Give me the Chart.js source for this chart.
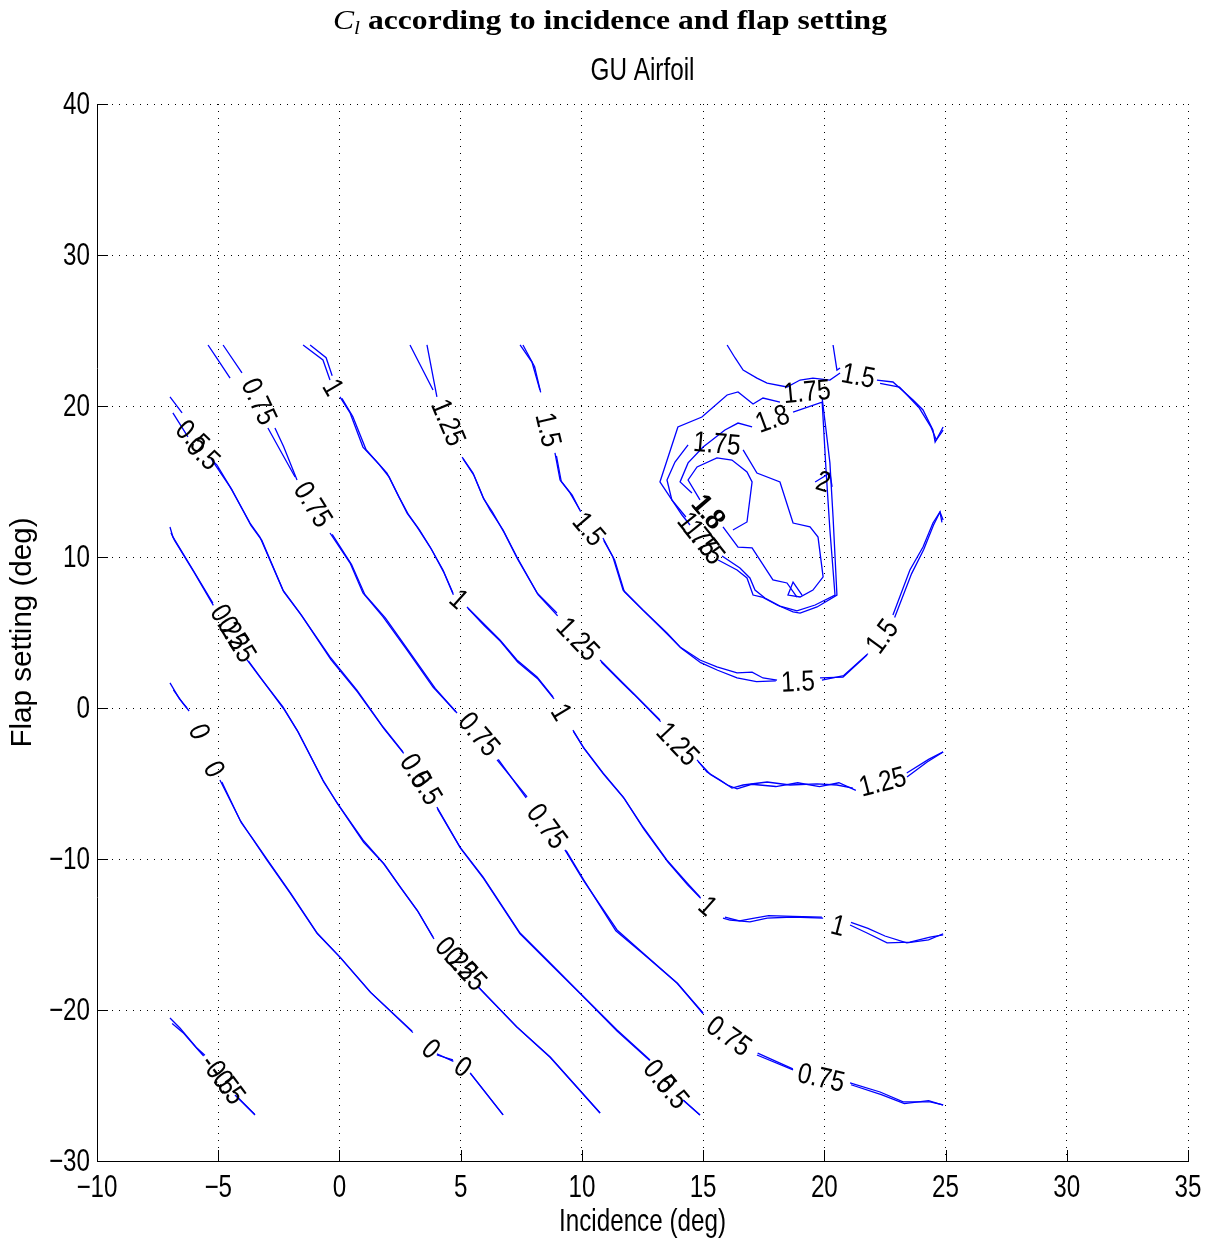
<!DOCTYPE html>
<html>
<head>
<meta charset="utf-8">
<title>Cl contours - GU Airfoil</title>
<script src="https://cdn.jsdelivr.net/npm/chart.js@4/dist/chart.umd.min.js"></script>
<style>
  html, body { margin: 0; padding: 0; background: #fff; }
  #wrap { width: 1209px; height: 1243px; }
  canvas { display: block; }
</style>
</head>
<body>
<div id="wrap"><canvas id="cl" width="1209" height="1243"></canvas></div>
<script>
// Axis ranges (degrees)
const incidenceRange = [-10, 35];
const flapRange = [-30, 40];
const incidenceStep = 5;
const flapStep = 10;

// Contour paths as [incidence, flap] pairs. Each level is traced twice (a/b);
// null breaks the line where an inline label sits.
const cl_neg050_a = [[-6.99,-20.53],[-6.58,-21.19],[-5.88,-22.52],[-5.55,-23.00],null,[-4.31,-25.63],[-3.48,-26.95]];
const cl_neg050_b = [[-6.90,-20.90],[-6.45,-21.50],[-5.85,-22.60],[-5.60,-23.05],null,[-4.25,-25.70],[-3.50,-26.90]];

const cl_000_a = [[-6.99,1.66],[-6.60,0.60],[-6.29,0.00],null,[-5.55,-2.90],null,[-4.93,-4.77],[-4.10,-7.42],[-3.69,-8.41],[-2.99,-10.07],[-2.04,-12.25],[-0.93,-14.90],[0.02,-16.50],[1.26,-18.80],[3.03,-21.50],null,[4.02,-22.98],[4.68,-23.31],null,[5.39,-24.17],[6.75,-26.95]];
const cl_000_b = [[-6.85,1.20],[-6.45,0.30],[-6.20,-0.20],null,[-5.50,-3.00],null,[-4.85,-4.90],[-4.05,-7.60],[-3.60,-8.60],[-2.95,-10.10],[-2.00,-12.30],[-0.90,-14.95],[0.05,-16.55],[1.30,-18.85],[3.00,-21.40],null,[4.02,-22.90],[4.70,-23.40],null,[5.40,-24.20],[6.75,-26.95]];

const cl_025_a = [[-6.99,11.99],[-6.87,11.33],[-6.04,9.14],[-5.22,6.95],null,[-3.81,3.18],[-3.28,2.05],[-2.33,0.07],[-1.75,-1.46],[-0.68,-4.77],[-0.10,-6.29],[0.97,-8.74],[1.80,-10.26],[2.50,-11.85],[3.20,-13.38],[3.86,-15.17],null,[5.72,-18.48],[7.32,-21.13],[8.69,-23.11],[10.75,-26.82]];
const cl_025_b = [[-6.95,11.60],[-6.80,11.10],[-6.00,9.00],[-5.20,6.80],null,[-3.75,3.10],[-3.20,1.90],[-2.30,-0.05],[-1.70,-1.60],[-0.65,-4.90],[-0.05,-6.40],[1.00,-8.90],[1.85,-10.35],[2.55,-11.95],[3.25,-13.50],[3.90,-15.30],null,[5.75,-18.50],[7.30,-21.10],[8.70,-23.15],[10.75,-26.82]];

const cl_050_a = [[-6.99,20.60],[-6.49,19.54],null,[-5.30,16.50],[-5.05,16.09],[-4.51,14.64],[-3.69,12.25],[-3.28,11.32],[-2.33,7.81],[-1.63,6.29],[-0.39,3.38],[0.72,1.19],[1.80,-1.26],[2.62,-2.91],null,[4.02,-6.56],[4.97,-9.21],[5.92,-11.19],[7.45,-14.90],[8.69,-16.89],[9.92,-18.87],[11.45,-21.32],[12.81,-23.31],null,[14.17,-25.96],[14.87,-26.95]];
const cl_050_b = [[-6.87,19.54],[-6.25,17.95],null,[-5.25,16.40],[-4.45,14.50],[-3.65,12.10],[-3.20,11.10],[-2.30,7.70],[-1.55,6.10],[-0.35,3.20],[0.75,1.05],[1.85,-1.40],[2.65,-3.00],null,[4.05,-6.70],[5.00,-9.30],[5.95,-11.30],[7.45,-14.95],[8.70,-16.95],[9.95,-18.95],[11.45,-21.40],[12.80,-23.35],null,[14.20,-26.00],[14.87,-26.95]];

const cl_075_a = [[-5.42,24.04],[-5.01,23.05],[-4.51,21.85],null,[-2.95,18.54],[-2.45,17.09],[-1.83,15.30],null,[-0.39,11.59],[0.44,9.60],[0.97,7.62],[1.80,6.03],[2.79,3.84],[3.86,1.39],[4.85,-0.33],null,[6.50,-3.44],[7.74,-5.89],null,[9.30,-9.40],[10.05,-11.39],[11.45,-14.70],[12.52,-16.23],[13.92,-18.21],[15.00,-20.20],null,[17.22,-22.98],[18.71,-23.97],null,[21.06,-24.83],[22.30,-25.43],[23.25,-26.09],[24.36,-26.09],[24.90,-26.29]];
const cl_075_b = [[-4.80,24.04],[-4.02,22.19],null,[-2.66,18.54],[-2.30,17.30],[-1.75,15.10],null,[-0.30,11.50],[0.50,9.50],[1.05,7.50],[1.90,5.95],[2.85,3.80],[3.95,1.30],[4.80,-0.25],null,[6.55,-3.40],[7.70,-5.95],null,[9.35,-9.45],[10.10,-11.45],[11.40,-14.75],[12.55,-16.30],[13.95,-18.25],[15.00,-20.25],null,[17.25,-22.85],[18.70,-23.90],null,[21.10,-24.95],[22.35,-25.60],[23.30,-26.20],[24.30,-26.00],[24.90,-26.30]];

const cl_100_a = [[-1.50,24.04],[-0.68,23.05],[-0.39,21.72],null,[0.02,20.60],[0.44,19.54],[0.97,17.28],[1.55,16.29],[1.96,15.56],[2.37,14.24],[2.79,12.91],[3.20,11.99],[3.74,10.66],[4.27,9.14],[4.68,7.62],null,[5.26,6.69],[5.92,5.63],[6.62,4.50],[7.32,3.18],[8.15,2.05],[8.81,0.73],null,[9.63,-1.46],[10.05,-2.58],[10.87,-4.30],[11.70,-5.89],[12.52,-7.88],[13.51,-10.07],[14.34,-11.59],[14.87,-12.52],null,[15.82,-13.91],[16.11,-14.04],[16.93,-14.17],[17.64,-13.91],[18.71,-13.84],[19.95,-13.91],null,[21.06,-14.37],[21.76,-14.90],[22.59,-15.56],[23.53,-15.50],[24.36,-15.17],[24.90,-15.03]];
const cl_100_b = [[-1.21,24.04],[-0.55,23.20],[-0.30,22.00],null,[0.10,20.50],[0.55,19.30],[1.10,17.10],[1.65,16.10],[2.05,15.30],[2.45,14.00],[2.85,12.80],[3.30,11.80],[3.80,10.50],[4.30,9.00],[4.70,7.50],null,[5.30,6.60],[5.95,5.50],[6.65,4.40],[7.35,3.05],[8.20,1.90],[8.85,0.60],null,[9.65,-1.55],[10.10,-2.70],[10.90,-4.40],[11.75,-6.00],[12.55,-8.00],[13.55,-10.20],[14.35,-11.70],[14.90,-12.60],null,[15.90,-13.85],[16.50,-14.10],[17.00,-13.95],[17.70,-13.75],[18.70,-13.80],[19.90,-13.85],null,[21.10,-14.20],[21.80,-14.60],[22.50,-15.10],[23.40,-15.55],[24.30,-15.35],[24.90,-14.95]];

const cl_125_a = [[2.91,24.04],[3.86,21.06],null,[5.06,16.62],[5.51,15.56],[5.92,13.97],[6.21,13.11],[6.75,11.79],[7.32,10.00],[8.15,7.62],[8.97,6.29],null,[10.75,3.18],[11.57,1.85],[12.11,0.99],[13.22,-0.79],null,[14.75,-3.44],[15.16,-4.24],[15.70,-4.77],[16.19,-5.30],[16.65,-5.10],[17.64,-4.90],[18.58,-5.10],[19.70,-5.03],[20.52,-5.10],[21.18,-5.30],null,[23.41,-4.57],[24.24,-3.58],[24.90,-2.91]];
const cl_125_b = [[3.61,24.04],[4.02,20.60],null,[5.10,16.50],[5.55,15.40],[5.95,13.85],[6.30,13.00],[6.80,11.60],[7.35,9.85],[8.20,7.50],[9.00,6.10],null,[10.80,3.05],[11.60,1.75],[12.15,0.90],[13.25,-0.90],null,[14.80,-3.55],[15.30,-4.40],[16.00,-5.10],[16.40,-5.35],[17.00,-5.05],[18.00,-5.20],[18.90,-4.95],[19.80,-5.20],[20.60,-4.95],[21.30,-5.45],null,[23.40,-4.30],[24.30,-3.40],[24.90,-2.91]];

const cl_150_a = [[7.45,24.04],[7.94,22.91],[8.27,21.06],null,[8.89,16.89],[9.10,15.10],[9.51,14.24],[9.92,13.11],null,[10.87,11.26],[11.28,10.00],[11.70,7.81],[12.52,6.49],[13.51,4.97],[14.05,4.04],[14.87,3.18],[15.57,2.72],[16.40,2.32],[17.02,2.38],[17.47,1.99],[18.05,1.85],null,[19.82,1.99],[20.77,2.05],[21.76,3.51],null,[22.83,6.16],[23.53,9.14],[24.07,10.66],[24.48,12.25],[24.77,12.98],[24.90,12.45]];
const cl_150_b = [[7.57,24.04],[8.05,22.60],[8.30,20.90],null,[8.95,16.70],[9.15,15.00],[9.60,14.10],[9.95,13.00],null,[10.90,11.10],[11.35,9.80],[11.75,7.70],[12.60,6.35],[13.55,4.85],[14.10,3.95],[14.90,3.00],[15.60,2.50],[16.40,2.00],[17.20,1.75],[18.00,1.80],null,[19.90,1.85],[20.80,2.15],[21.80,3.60],null,[22.90,6.00],[23.60,8.90],[24.10,10.50],[24.50,12.10],[24.77,12.98],[24.85,12.30]];
const cl_150_up_a = [[15.99,24.04],[16.32,23.18],[16.65,22.38],[17.22,21.85],[17.64,21.52],[18.46,21.26],[19.00,21.72],[19.53,21.85],[20.23,21.72],[20.65,22.19],null,[22.17,21.72],[22.83,21.59],[23.66,20.40],[24.07,19.74],[24.48,18.41],[24.57,17.62],[24.90,18.61]];
const cl_150_up_b = [[20.36,24.04],[20.52,22.38],[20.65,22.52],null,[22.30,21.50],[23.10,21.25],[23.90,19.90],[24.40,18.60],[24.62,17.75],[24.90,18.40]];

const cl_175_a = [[19.91,20.53],[20.07,18.41],[20.23,16.23],[20.36,12.65],[20.52,7.48],[19.70,6.69],[19.00,6.29],[18.71,6.36],[18.05,6.82],[17.43,7.35],[17.06,7.48],[16.81,8.61],[16.40,9.14],[15.62,9.80],null,[14.46,12.12],[14.13,12.78],[13.22,14.97],[13.96,18.61],[14.95,19.27],[15.99,20.73],[16.44,20.93],[17.06,20.13],[17.47,20.53],[18.17,20.26]];
const cl_175_b = [[14.29,12.65],[13.71,13.78],[13.51,15.10],[13.84,16.29],[14.38,17.42],null,[16.65,17.09],[17.22,15.56],[18.17,14.97],[18.71,12.25],[19.41,11.99],[19.74,11.32],[19.95,8.68],[19.53,7.81],[19.00,7.35],[18.50,7.48],[18.71,8.34],[19.08,7.48]];

const cl_180_a = [[18.71,19.60],[19.91,20.26],[20.07,15.76],[20.23,11.79],[20.44,7.48],[19.62,6.82],[18.87,6.43],[18.17,6.75],[17.55,7.28],[17.14,7.81],[16.93,8.61],[16.52,9.27],[15.78,10.07],null,[14.54,14.24],[14.05,14.97],[14.38,16.23],[15.00,17.28],[15.90,18.41],[16.44,18.87],[17.02,18.61]];
const cl_180_b = [[14.87,13.78],[14.38,15.10],[14.75,15.96],[15.57,16.56],[16.19,16.42],[16.81,15.63],[17.02,14.97],[16.81,12.32],[16.23,11.79],null,[15.82,11.99],[16.44,10.66],[17.02,10.60],[17.88,8.48],[18.46,8.28],[18.87,7.35]];

const cl_200_a = [[19.62,14.97],[20.23,15.56],[20.32,14.64]];

// Inline label anchors [incidence, flap] for each level
const lab_neg050 = [[-4.99,-24.32],[-4.69,-24.96]];
const lab_000 = [[-5.83,-1.60],[-5.22,-4.10],[3.74,-22.65],[5.06,-23.84]];
const lab_025 = [[-4.58,5.30],[-4.28,4.50],[4.78,-16.66],[5.16,-17.34]];
const lab_050 = [[-6.10,17.90],[-5.66,16.80],[3.10,-4.21],[3.54,-5.33],[13.17,-24.46],[13.69,-25.48]];
const lab_075 = [[-3.36,20.26],[-1.13,13.44],[5.72,-1.79],[8.52,-7.88],[16.03,-21.79],[19.86,-24.57]];
const lab_100 = [[-0.31,21.19],[4.89,7.15],[9.10,-0.33],[15.16,-13.18],[20.56,-14.50]];
const lab_125 = [[4.44,18.87],[9.80,4.50],[13.92,-2.45],[22.42,-4.97]];
const lab_150 = [[8.56,18.41],[10.25,11.79],[18.91,1.66],[22.42,4.70],[21.39,21.92]];
const lab_175 = [[19.29,20.86],[15.57,17.42],[15.00,10.93],[14.75,11.46]];
const lab_180 = [[17.88,19.07],[15.16,12.98],[15.20,12.90]];
const lab_200 = [[19.95,14.90]];

// Level table assembled from the arrays above
const contours = [
  { level: -0.5, paths: [cl_neg050_a, cl_neg050_b], labels: lab_neg050 },
  { level: 0,    paths: [cl_000_a, cl_000_b], labels: lab_000 },
  { level: 0.25, paths: [cl_025_a, cl_025_b], labels: lab_025 },
  { level: 0.5,  paths: [cl_050_a, cl_050_b], labels: lab_050 },
  { level: 0.75, paths: [cl_075_a, cl_075_b], labels: lab_075 },
  { level: 1,    paths: [cl_100_a, cl_100_b], labels: lab_100 },
  { level: 1.25, paths: [cl_125_a, cl_125_b], labels: lab_125 },
  { level: 1.5,  paths: [cl_150_a, cl_150_b, cl_150_up_a, cl_150_up_b], labels: lab_150 },
  { level: 1.75, paths: [cl_175_a, cl_175_b], labels: lab_175 },
  { level: 1.8,  paths: [cl_180_a, cl_180_b], labels: lab_180 },
  { level: 2,    paths: [cl_200_a], labels: lab_200 }
];

function toPoints(path) {
  const out = [];
  let lastX = 0;
  path.forEach(p => {
    if (p) { out.push({ x: p[0], y: p[1] }); lastX = p[0]; }
    else out.push({ x: lastX, y: null });
  });
  return out;
}

const datasets = [];
contours.forEach(c => {
  c.paths.forEach(path => {
    datasets.push({
      label: String(c.level),
      data: toPoints(path),
      borderColor: '#0000ff',
      borderWidth: 1.3,
      pointRadius: 0,
      pointHoverRadius: 0,
      tension: 0,
      fill: false,
      spanGaps: false
    });
  });
});

const SANS = '"Liberation Sans", Arial, Helvetica, sans-serif';
const SERIF = '"Liberation Serif", "Times New Roman", serif';
const TICK_LEN = 11;

function drawText(ctx, text, x, y, o) {
  ctx.save();
  ctx.translate(x, y);
  if (o.angle) ctx.rotate(o.angle);
  ctx.scale(o.sx || 1, 1);
  ctx.font = o.font;
  ctx.fillStyle = '#000';
  ctx.textAlign = o.align || 'center';
  ctx.textBaseline = o.baseline || 'middle';
  ctx.fillText(text, 0, 0);
  ctx.restore();
}

// Draw text compressed along its own direction to a given length
function drawFitted(ctx, text, x, y, font, length, angle) {
  ctx.save();
  ctx.font = font;
  const w = ctx.measureText(text).width;
  ctx.restore();
  drawText(ctx, text, x, y, { font, sx: length / w, angle: angle || 0 });
}

function fmtTick(v) {
  return String(v).replace('-', '\u2212');
}

// Angle of the contour under a label, from the nearest traced points on both sides
function labelAngle(lx, ly, paths, xs, ys) {
  const L = { x: xs.getPixelForValue(lx), y: ys.getPixelForValue(ly) };
  const pts = [];
  paths.forEach(path => path.forEach(p => {
    if (p) pts.push({ x: xs.getPixelForValue(p[0]), y: ys.getPixelForValue(p[1]) });
  }));
  pts.sort((a, b) => Math.hypot(a.x - L.x, a.y - L.y) - Math.hypot(b.x - L.x, b.y - L.y));
  const a = pts[0];
  const b = pts.find(p => (p.x - L.x) * (a.x - L.x) + (p.y - L.y) * (a.y - L.y) < 0);
  if (!a || !b) return 0;
  let ang = Math.atan2(b.y - a.y, b.x - a.x);
  if (ang > Math.PI / 2) ang -= Math.PI;
  if (ang <= -Math.PI / 2) ang += Math.PI;
  return ang;
}

const decor = {
  id: 'decor',
  beforeDraw(chart) {
    const ctx = chart.ctx;
    ctx.save();
    ctx.fillStyle = '#fff';
    ctx.fillRect(0, 0, chart.width, chart.height);
    ctx.restore();
  },
  afterDatasetsDraw(chart) {
    const ctx = chart.ctx;
    const a = chart.chartArea;
    const xs = chart.scales.x, ys = chart.scales.y;

    // inward tick marks
    ctx.save();
    ctx.strokeStyle = '#000';
    ctx.lineWidth = 1;
    ctx.beginPath();
    xs.ticks.forEach(t => {
      const px = Math.round(xs.getPixelForValue(t.value)) + 0.5;
      ctx.moveTo(px, a.bottom);
      ctx.lineTo(px, a.bottom - TICK_LEN);
    });
    ys.ticks.forEach(t => {
      const py = Math.round(ys.getPixelForValue(t.value)) + 0.5;
      ctx.moveTo(a.left, py);
      ctx.lineTo(a.left + TICK_LEN, py);
    });
    ctx.stroke();
    ctx.restore();

    // tick labels
    const tickFont = '31px ' + SANS;
    xs.ticks.forEach(t => {
      drawText(ctx, fmtTick(t.value), xs.getPixelForValue(t.value), a.bottom + 27, { font: tickFont, sx: 0.78 });
    });
    ys.ticks.forEach(t => {
      drawText(ctx, fmtTick(t.value), a.left - 7, ys.getPixelForValue(t.value) + 1, { font: tickFont, sx: 0.78, align: 'right' });
    });

    // inline contour labels
    const labFont = '29px ' + SANS;
    contours.forEach(c => {
      c.labels.forEach(l => {
        const ang = labelAngle(l[0], l[1], c.paths, xs, ys);
        drawText(ctx, String(c.level), xs.getPixelForValue(l[0]), ys.getPixelForValue(l[1]), { font: labFont, sx: 0.84, angle: ang });
      });
    });

    // figure title: C_l according to incidence and flap setting
    const parts = [
      { t: 'C', f: 'italic 28px ' + SERIF, dy: 0 },
      { t: 'l', f: 'italic 19px ' + SERIF, dy: 5 },
      { t: ' according to incidence and flap setting', f: 'bold 28px ' + SERIF, dy: 0 }
    ];
    let total = 0;
    ctx.save();
    parts.forEach(p => { ctx.font = p.f; p.w = ctx.measureText(p.t).width; total += p.w; });
    const titleW = 554;
    const k = titleW / total;
    ctx.translate(610 - titleW / 2, 29);
    ctx.scale(k, 1);
    ctx.fillStyle = '#000';
    ctx.textBaseline = 'alphabetic';
    ctx.textAlign = 'left';
    let cx = 0;
    parts.forEach(p => { ctx.font = p.f; ctx.fillText(p.t, cx, p.dy); cx += p.w; });
    ctx.restore();

    // axes title and axis labels
    const midX = (a.left + a.right) / 2;
    const midY = (a.top + a.bottom) / 2;
    drawFitted(ctx, 'GU Airfoil', midX, 71, '32px ' + SANS, 104, 0);
    drawFitted(ctx, 'Incidence (deg)', midX, 1222, '32px ' + SANS, 167, 0);
    drawFitted(ctx, 'Flap setting (deg)', 23, midY, '30px ' + SANS, 230, -Math.PI / 2);
  }
};

new Chart(document.getElementById('cl'), {
  type: 'line',
  data: { datasets },
  options: {
    responsive: false,
    animation: false,
    events: [],
    layout: { padding: { top: 104, right: 21, left: 0, bottom: 0 } },
    plugins: {
      legend: { display: false },
      tooltip: { enabled: false },
      title: { display: false }
    },
    scales: {
      x: {
        type: 'linear',
        min: incidenceRange[0],
        max: incidenceRange[1],
        ticks: { stepSize: incidenceStep, display: false },
        grid: { color: '#000', lineWidth: 1, drawTicks: false },
        border: { display: true, color: '#000', width: 1, dash: [1, 6] },
        afterFit(s) { s.height = 82; }
      },
      y: {
        type: 'linear',
        min: flapRange[0],
        max: flapRange[1],
        ticks: { stepSize: flapStep, display: false },
        grid: { color: '#000', lineWidth: 1, drawTicks: false },
        border: { display: true, color: '#000', width: 1, dash: [1, 6] },
        afterFit(s) { s.width = 97; }
      }
    }
  },
  plugins: [decor]
});
</script>
</body>
</html>
